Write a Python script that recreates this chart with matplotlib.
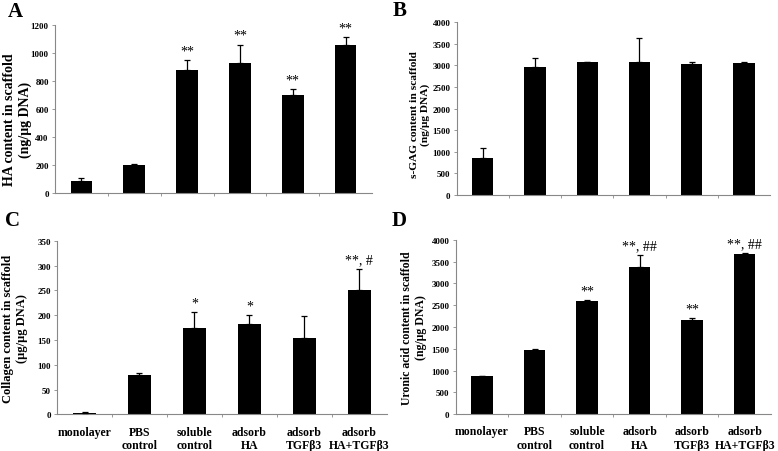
import matplotlib.pyplot as plt
import numpy as np

plt.rcParams["font.family"] = ["Liberation Serif", "DejaVu Serif"]

groups = ["monolayer", "PBS\ncontrol", "soluble\ncontrol", "adsorb\nHA",
          "adsorb\nTGFβ3", "adsorb\nHA+TGFβ3"]

ha_mean = [85, 197, 880, 925, 700, 1058]
ha_err = [20, 8, 70, 135, 40, 57]
ha_sig = ["", "", "**", "**", "**", "**"]

gag_mean = [850, 2970, 3080, 3070, 3030, 3060]
gag_err = [240, 200, 0, 570, 40, 30]
gag_sig = ["", "", "", "", "", ""]

col_mean = [3, 80, 175, 182, 154, 250]
col_err = [1, 3, 31, 18, 45, 43]
col_sig = ["", "", "*", "*", "", "**, #"]

uro_mean = [880, 1480, 2600, 3380, 2160, 3680]
uro_err = [0, 10, 10, 280, 40, 20]
uro_sig = ["", "", "**", "**, ##", "**", "**, ##"]

panels = [
    ("A", [0.0707, 0.5708, 0.4075, 0.3717], ha_mean, ha_err, ha_sig, 1200, 200,
     "HA content in scaffold\n(ng/μg DNA)", 10, (-0.074, 0.44)),
    ("B", [0.587, 0.5664, 0.4027, 0.382], gag_mean, gag_err, gag_sig, 4000, 500,
     "s-GAG content in scaffold\n(ng/μg DNA)", 8.2, (-0.085, 0.47)),
    ("C", [0.0733, 0.0808, 0.424, 0.3845], col_mean, col_err, col_sig, 350, 50,
     "Collagen content in scaffold\n(μg/μg DNA)", 9, (-0.088, 0.5)),
    ("D", [0.5857, 0.0812, 0.4053, 0.3863], uro_mean, uro_err, uro_sig, 4000, 500,
     "Uronic acid content in scaffold\n(ng/μg DNA)", 8.5, (-0.09, 0.5)),
]
letter_pos = {"A": (0.01, 0.995), "B": (0.505, 0.997), "C": (0.006, 0.533), "D": (0.503, 0.533)}

fig = plt.figure(figsize=(7.78, 4.52), dpi=100)

for name, rect, mean, err, sig, ymax, step, ylabel, lsize, lcoords in panels:
    ax = fig.add_axes(rect)
    x = np.arange(len(groups))
    ax.bar(x, mean, width=0.41, color="black", zorder=2)
    ax.errorbar(x, mean, yerr=[np.zeros(len(err)), err], fmt="none",
                ecolor="black", elinewidth=0.9, capsize=2.5, capthick=0.9, zorder=3)
    for xi, m, e, s in zip(x, mean, err, sig):
        if s:
            ax.annotate(s, (xi, m + e), xytext=(0, 2), textcoords="offset points",
                        ha="center", va="bottom", fontsize=10)
    ax.set_xlim(-0.5, len(groups) - 0.5)
    ax.set_ylim(0, ymax)
    ax.set_yticks(np.arange(0, ymax + 1, step))
    ax.tick_params(axis="y", labelsize=6.5, length=2.5, width=0.6,
                   color="#888888", pad=2)
    for t in ax.get_yticklabels():
        t.set_fontweight("bold")
    # excel style: ticks between the categories
    ax.set_xticks(np.arange(0.5, len(groups) - 0.5))
    ax.set_xticklabels([])
    ax.tick_params(axis="x", length=2.5, width=0.6, color="#888888")
    if name in ("C", "D"):
        ax.set_xticks(x, minor=True)
        ax.set_xticklabels(groups, minor=True, fontsize=8.5, fontweight="bold")
        ax.tick_params(axis="x", which="minor", length=0, pad=8)
    for sp in ["top", "right"]:
        ax.spines[sp].set_visible(False)
    for sp in ["left", "bottom"]:
        ax.spines[sp].set_color("#888888")
        ax.spines[sp].set_linewidth(0.8)
    ax.set_ylabel(ylabel, fontsize=lsize, fontweight="bold")
    ax.yaxis.set_label_coords(*lcoords)
    lx, ly = letter_pos[name]
    fig.text(lx, ly, name, fontsize=15, fontweight="bold", va="top", ha="left")

fig.savefig("out.png", dpi=100)
